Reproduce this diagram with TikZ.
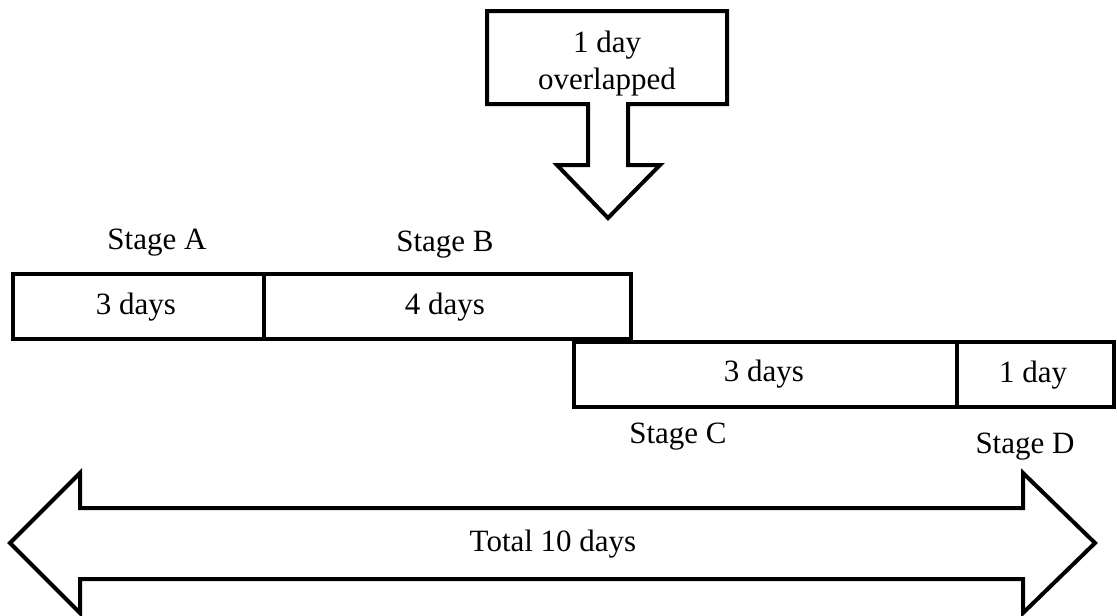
\documentclass[tikz,border=0pt]{standalone}
\usepackage{fontspec}
\setmainfont{Liberation Serif}
\begin{document}
\begin{tikzpicture}[x=1pt,y=-1pt,
  every node/.style={font=\fontsize{31}{36}\selectfont, inner sep=0pt},
  shp/.style={draw=black, line width=4pt, fill=white},
  stagebox/.style={draw=black, line width=4pt, fill=white, minimum height=65pt, anchor=north west},
  lbl/.style={text=black}]
\useasboundingbox (0,0) rectangle (1117,616);
% callout arrow
\draw[shp] (487,11) -- (727,11) -- (727,104) -- (628,104) -- (628,165) -- (660,165)
  -- (608,218) -- (557,165) -- (588,165) -- (588,104) -- (487,104) -- cycle;
\node[lbl, align=center] (ov) at (607,64) {1 day\\[1pt]overlapped};
% stage boxes
\node[stagebox, minimum width=251pt] (a) at (11,272) {};
\node[stagebox, minimum width=367pt] (b) at (262,272) {};
\node[stagebox, minimum width=383pt] (c) at (572,340) {};
\node[stagebox, minimum width=157pt] (d) at (955,340) {};
\node[lbl] at (136,307) {3 days};
\node[lbl] at (445,307) {4 days};
\node[lbl] at (764,374) {3 days};
\node[lbl] at (1033,375) {1 day};
\node[lbl] (la) at (157,243) {Stage A};
\node[lbl] (lb) at (445,245) {Stage B};
\node[lbl] (lc) at (678,437) {Stage C};
\node[lbl] (ld) at (1025,447) {Stage D};
% double arrow
\draw[shp] (10,543) -- (80,473) -- (80,508) -- (1023,508) -- (1023,473) -- (1095,543)
  -- (1023,613) -- (1023,579) -- (80,579) -- (80,613) -- cycle;
\node[lbl] (tot) at (553,544) {Total 10 days};
\end{tikzpicture}
\end{document}
